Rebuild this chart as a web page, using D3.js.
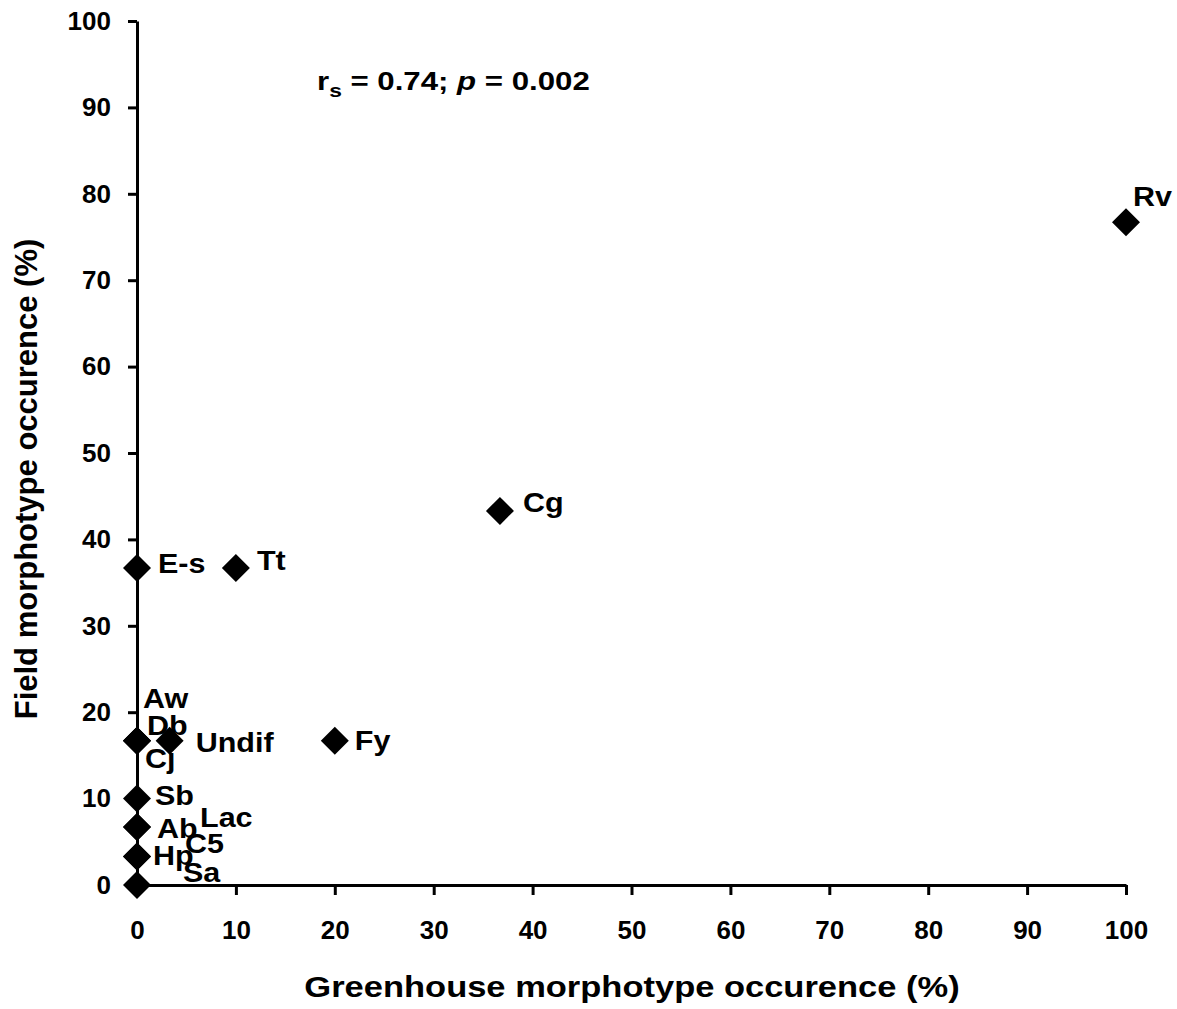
<script src="https://d3js.org/d3.v7.min.js"></script>

<style>
  body { margin: 0; background: #fff; }
  text { font-family: "Liberation Sans", Arial, sans-serif; font-weight: bold; fill: #000; }
</style>

<div id="container"></div>

<script>
// morphotype data (percent occurrence)
var names = ["Rv", "Cg", "Tt", "E-s", "Fy", "Undif", "Aw", "Db", "Cj", "Sb", "Ab", "Lac", "Hp", "C5", "Sa"];
var greenhouse = [100, 36.7, 10, 0, 20, 3.3, 0, 0, 0, 0, 0, 0, 0, 0, 0];
var field = [76.7, 43.3, 36.7, 36.7, 16.7, 16.7, 16.7, 16.7, 16.7, 10, 6.7, 6.7, 3.3, 3.3, 0];
var xTicks = [0, 10, 20, 30, 40, 50, 60, 70, 80, 90, 100];
var yTicks = [0, 10, 20, 30, 40, 50, 60, 70, 80, 90, 100];

// label nudges in px (dx, dy from the point), like excel data labels
var labelPos = {
  "Rv": [7, -16], "Cg": [23, 1], "Tt": [21, 2], "E-s": [21, 5], "Fy": [20, 9],
  "Undif": [26, 11], "Aw": [6, -33], "Db": [10, -6], "Cj": [8, 27], "Sb": [18, 6],
  "Ab": [20, 11], "Lac": [63, 0], "Hp": [16, 9], "C5": [48, -3], "Sa": [46, -3]
};

var W = 1177, H = 1009;
var svg = d3.select("#container").append("svg")
  .attr("width", W)
  .attr("height", H);

var x = d3.scaleLinear().domain([0, 100]).range([137, 1126]);
var y = d3.scaleLinear().domain([0, 100]).range([885, 21]);

var points = names.map(function(n, i) {
  return { name: n, gx: greenhouse[i], fy: field[i] };
});

// x axis
var xAxis = svg.append("g")
  .attr("transform", "translate(0," + y(0) + ")")
  .call(d3.axisBottom(x).tickValues(xTicks).tickSize(10).tickSizeOuter(0).tickPadding(26));
// y axis
var yAxis = svg.append("g")
  .attr("transform", "translate(" + x(0) + ",0)")
  .call(d3.axisLeft(y).tickValues(yTicks).tickSize(9).tickSizeOuter(0).tickPadding(17));

[xAxis, yAxis].forEach(function(a) {
  a.select(".domain").attr("stroke", "#000").attr("stroke-width", 3);
  a.selectAll(".tick line").attr("stroke", "#000").attr("stroke-width", 3);
  a.selectAll(".tick text")
    .style("font-family", '"Liberation Sans", Arial, sans-serif')
    .style("font-weight", "bold")
    .style("font-size", "26px")
    .attr("fill", "#000");
});

// diamonds
svg.append("g")
  .selectAll("path")
  .data(points)
  .enter()
  .append("path")
    .attr("d", d3.symbol(d3.symbolSquare, 392))
    .attr("transform", function(d) { return "translate(" + x(d.gx) + "," + y(d.fy) + ") rotate(45)"; })
    .attr("fill", "#000");

// labels (glyphs in the original are a bit wide, so stretch a little)
svg.append("g")
  .selectAll("text")
  .data(points)
  .enter()
  .append("text")
    .attr("transform", function(d) {
      return "translate(" + (x(d.gx) + labelPos[d.name][0]) + "," + (y(d.fy) + labelPos[d.name][1]) + ") scale(1.09,1)";
    })
    .style("font-size", "28px")
    .text(function(d) { return d.name; });

// statistics note
var note = svg.append("text")
  .attr("transform", "translate(317,90) scale(1.2,1)")
  .style("font-size", "26px");
note.append("tspan").text("r");
note.append("tspan").attr("dy", 7).style("font-size", "19px").text("s");
note.append("tspan").attr("dy", -7).text(" = 0.74; ");
note.append("tspan").style("font-style", "italic").text("p");
note.append("tspan").text(" = 0.002");

// axis titles
svg.append("text")
  .attr("transform", "translate(632,997) scale(1.15,1)")
  .style("text-anchor", "middle")
  .style("font-size", "30px")
  .text("Greenhouse morphotype occurence (%)");

svg.append("text")
  .attr("transform", "translate(37,479) rotate(-90)")
  .style("text-anchor", "middle")
  .style("font-size", "31px")
  .text("Field morphotype occurence (%)");
</script>
